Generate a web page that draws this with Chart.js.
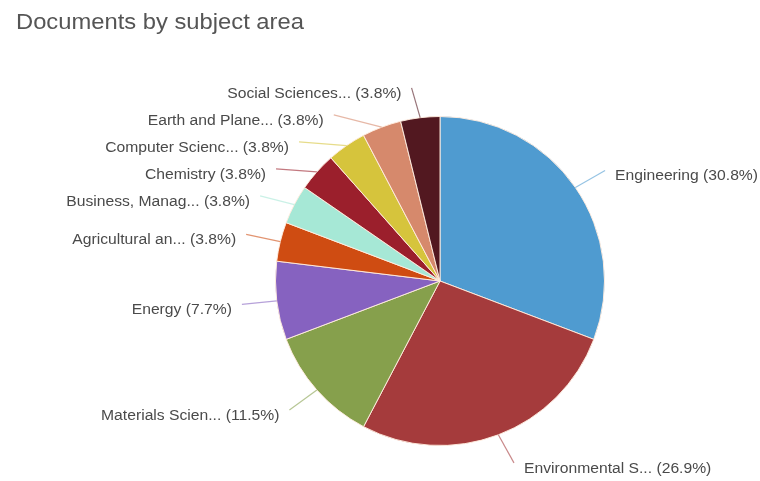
<!DOCTYPE html>
<html>
<head>
<meta charset="utf-8">
<script src="https://cdn.jsdelivr.net/npm/chart.js@4"></script>
<style>
  html, body { margin: 0; padding: 0; background: #fff; }
  #wrap { position: relative; width: 760px; height: 481px; }
</style>
</head>
<body>
<div id="wrap"><canvas id="c" width="760" height="481"></canvas></div>
<script>
// Subject areas (names shortened as shown on the chart) and document counts
const subjects = [
  'Engineering',
  'Environmental S...',
  'Materials Scien...',
  'Energy',
  'Agricultural an...',
  'Business, Manag...',
  'Chemistry',
  'Computer Scienc...',
  'Earth and Plane...',
  'Social Sciences...'
];
const documentCounts = [8, 7, 3, 2, 1, 1, 1, 1, 1, 1];
const sliceColors = [
  '#4f9bd0', '#a53b3c', '#86a04c', '#8662c0', '#cf4c12',
  '#a6e8d6', '#9b1f2c', '#d6c43c', '#d6896c', '#521820'
];
const chartTitle = 'Documents by subject area';

const total = documentCounts.reduce((a, b) => a + b, 0);

// Text drawn slightly widened horizontally
function wideText(ctx, text, x, y, sx) {
  ctx.save();
  ctx.translate(x, y);
  ctx.scale(sx, 1);
  ctx.fillText(text, 0, 0);
  ctx.restore();
}

// Draws the title plus outside labels with leader lines
const outsideLabels = {
  id: 'outsideLabels',
  afterDatasetsDraw(chart) {
    const ctx = chart.ctx;
    const meta = chart.getDatasetMeta(0);
    const dist = 30, gap = 27;
    const items = meta.data.map((arc, i) => {
      const p = arc.getProps(['x', 'y', 'startAngle', 'endAngle', 'outerRadius'], true);
      const mid = (p.startAngle + p.endAngle) / 2;
      const R = p.outerRadius + dist;
      return {
        i, cx: p.x, cy: p.y, r: p.outerRadius, R, mid,
        ex: p.x + Math.cos(mid) * p.outerRadius,
        ey: p.y + Math.sin(mid) * p.outerRadius,
        side: Math.cos(mid) >= 0 ? 1 : -1,
        y: p.y + Math.sin(mid) * R
      };
    });
    // keep labels on each side from overlapping
    [1, -1].forEach(side => {
      const list = items.filter(o => o.side === side).sort((a, b) => a.y - b.y);
      for (let k = 1; k < list.length; k++) {
        if (list[k].y < list[k - 1].y + gap) list[k].y = list[k - 1].y + gap;
      }
    });
    ctx.save();
    items.forEach(o => {
      const dy = Math.max(-o.R, Math.min(o.R, o.y - o.cy));
      const x = o.cx + o.side * Math.sqrt(o.R * o.R - dy * dy);
      ctx.strokeStyle = sliceColors[o.i];
      ctx.globalAlpha = 0.6;
      ctx.lineWidth = 1.2;
      ctx.beginPath();
      ctx.moveTo(o.ex, o.ey);
      ctx.lineTo(x + o.side * 5, o.y);
      ctx.stroke();
      ctx.globalAlpha = 1;
      const pct = (documentCounts[o.i] / total * 100).toFixed(1);
      ctx.fillStyle = '#4a4a4a';
      ctx.font = '14px "Liberation Sans", Arial, sans-serif';
      ctx.textBaseline = 'middle';
      ctx.textAlign = o.side > 0 ? 'left' : 'right';
      wideText(ctx, subjects[o.i] + ' (' + pct + '%)', x + o.side * 15, o.y + 6, 1.12);
    });
    ctx.fillStyle = '#555555';
    ctx.font = '22px "Liberation Sans", Arial, sans-serif';
    ctx.textAlign = 'left';
    ctx.textBaseline = 'alphabetic';
    wideText(ctx, chartTitle, 16, 29, 1.08);
    ctx.restore();
  }
};

new Chart(document.getElementById('c'), {
  type: 'pie',
  data: {
    labels: subjects,
    datasets: [{
      data: documentCounts,
      backgroundColor: sliceColors,
      borderColor: 'rgba(255,236,222,0.95)',
      borderWidth: 1
    }]
  },
  options: {
    responsive: false,
    animation: false,
    layout: { padding: { left: 275, right: 155, top: 116, bottom: 35 } },
    plugins: {
      legend: { display: false },
      tooltip: { enabled: false },
      title: { display: false }
    }
  },
  plugins: [outsideLabels]
});
</script>
</body>
</html>
